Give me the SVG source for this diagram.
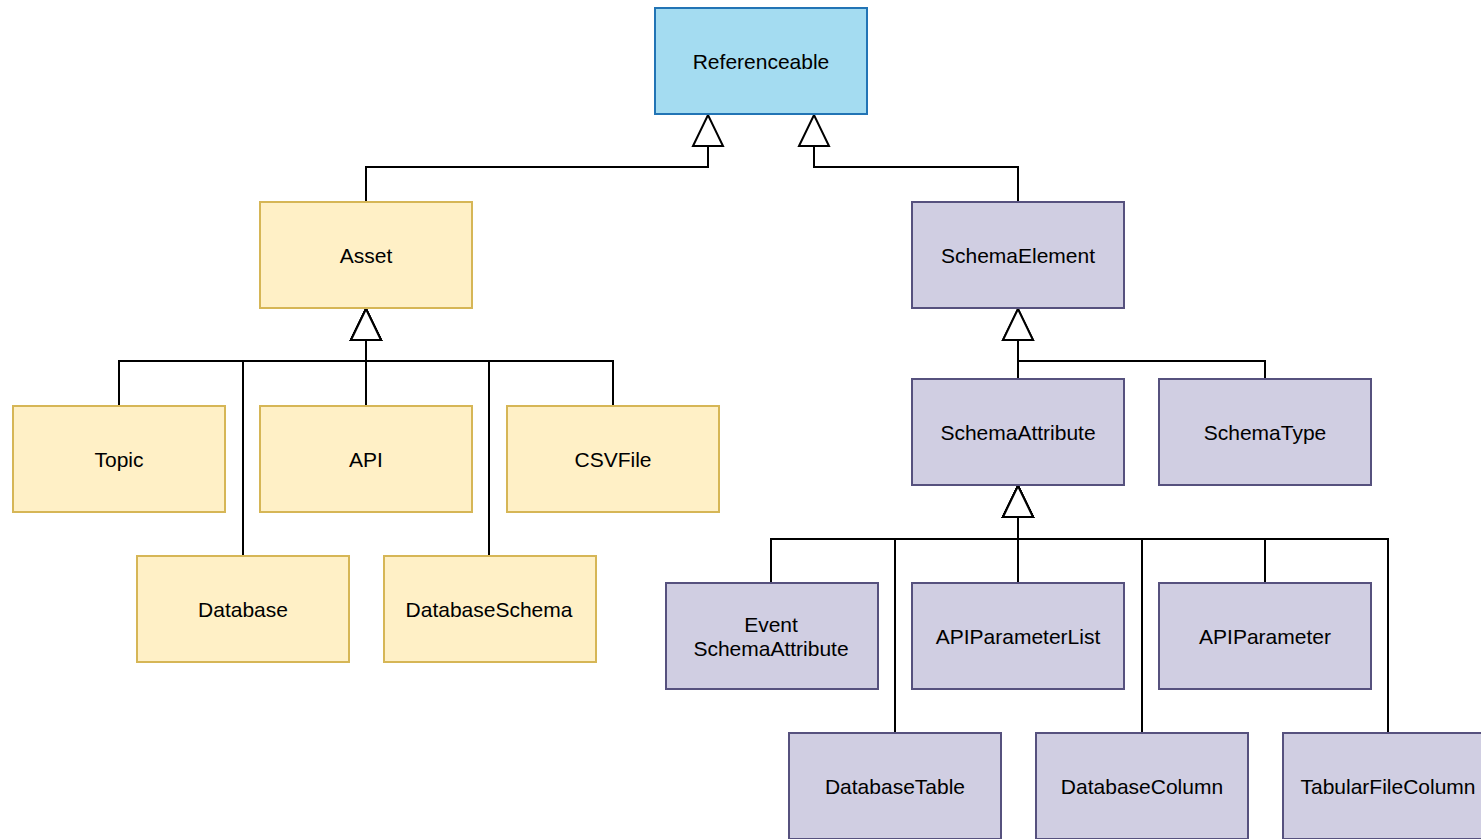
<svg xmlns="http://www.w3.org/2000/svg" width="1481" height="839" viewBox="0 0 1481 839">
  <style>
    .node rect { stroke-width: 2; }
    .ref rect { fill: #a4dcf1; stroke: #2274b5; }
    .asset rect { fill: #fff0c6; stroke: #d6b656; }
    .schema rect { fill: #d0cee2; stroke: #56517e; }
    .node text { font-family: "Liberation Sans", Arial, sans-serif; font-size: 21px; fill: #000; text-anchor: middle; dominant-baseline: central; }
    .edge { fill: none; stroke: #000; stroke-width: 2; }
  </style>
  <defs>
    <marker id="inherit" markerUnits="userSpaceOnUse" markerWidth="34" markerHeight="34" viewBox="-2 -2 34 34" refX="31" refY="15" orient="auto">
      <path d="M0,0 L31,15 L0,30 Z" fill="#fff" stroke="#000" stroke-width="2"/>
    </marker>
  </defs>

  <!-- generalisation connectors -->
  <g id="connectors">
    <path class="edge" d="M366,202 V167 H708 V115" marker-end="url(#inherit)"/>
    <path class="edge" d="M1018,202 V167 H814 V115" marker-end="url(#inherit)"/>

    <path class="edge" d="M119,405 V361 H366 V309" marker-end="url(#inherit)"/>
    <path class="edge" d="M243,556 V361 H366 V309" marker-end="url(#inherit)"/>
    <path class="edge" d="M366,405 V309" marker-end="url(#inherit)"/>
    <path class="edge" d="M489,556 V361 H366 V309" marker-end="url(#inherit)"/>
    <path class="edge" d="M613,405 V361 H366 V309" marker-end="url(#inherit)"/>

    <path class="edge" d="M1018,379 V309" marker-end="url(#inherit)"/>
    <path class="edge" d="M1265,379 V361 H1018 V309" marker-end="url(#inherit)"/>

    <path class="edge" d="M771,583 V539 H1018 V486" marker-end="url(#inherit)"/>
    <path class="edge" d="M895,733 V539 H1018 V486" marker-end="url(#inherit)"/>
    <path class="edge" d="M1018,583 V486" marker-end="url(#inherit)"/>
    <path class="edge" d="M1142,733 V539 H1018 V486" marker-end="url(#inherit)"/>
    <path class="edge" d="M1265,583 V539 H1018 V486" marker-end="url(#inherit)"/>
    <path class="edge" d="M1388,733 V539 H1018 V486" marker-end="url(#inherit)"/>
  </g>

  <g id="Referenceable" class="node ref">
    <rect x="655" y="8" width="212" height="106"/>
    <text x="761" y="61">Referenceable</text>
  </g>

  <g id="Asset" class="node asset">
    <rect x="260" y="202" width="212" height="106"/>
    <text x="366" y="255">Asset</text>
  </g>
  <g id="Topic" class="node asset">
    <rect x="13" y="406" width="212" height="106"/>
    <text x="119" y="459">Topic</text>
  </g>
  <g id="API" class="node asset">
    <rect x="260" y="406" width="212" height="106"/>
    <text x="366" y="459">API</text>
  </g>
  <g id="CSVFile" class="node asset">
    <rect x="507" y="406" width="212" height="106"/>
    <text x="613" y="459">CSVFile</text>
  </g>
  <g id="Database" class="node asset">
    <rect x="137" y="556" width="212" height="106"/>
    <text x="243" y="609">Database</text>
  </g>
  <g id="DatabaseSchema" class="node asset">
    <rect x="384" y="556" width="212" height="106"/>
    <text x="489" y="609">DatabaseSchema</text>
  </g>

  <g id="SchemaElement" class="node schema">
    <rect x="912" y="202" width="212" height="106"/>
    <text x="1018" y="255">SchemaElement</text>
  </g>
  <g id="SchemaAttribute" class="node schema">
    <rect x="912" y="379" width="212" height="106"/>
    <text x="1018" y="432">SchemaAttribute</text>
  </g>
  <g id="SchemaType" class="node schema">
    <rect x="1159" y="379" width="212" height="106"/>
    <text x="1265" y="432">SchemaType</text>
  </g>
  <g id="EventSchemaAttribute" class="node schema">
    <rect x="666" y="583" width="212" height="106"/>
    <text x="771" y="624">Event</text>
    <text x="771" y="648">SchemaAttribute</text>
  </g>
  <g id="APIParameterList" class="node schema">
    <rect x="912" y="583" width="212" height="106"/>
    <text x="1018" y="636">APIParameterList</text>
  </g>
  <g id="APIParameter" class="node schema">
    <rect x="1159" y="583" width="212" height="106"/>
    <text x="1265" y="636">APIParameter</text>
  </g>
  <g id="DatabaseTable" class="node schema">
    <rect x="789" y="733" width="212" height="106"/>
    <text x="895" y="786">DatabaseTable</text>
  </g>
  <g id="DatabaseColumn" class="node schema">
    <rect x="1036" y="733" width="212" height="106"/>
    <text x="1142" y="786">DatabaseColumn</text>
  </g>
  <g id="TabularFileColumn" class="node schema">
    <rect x="1283" y="733" width="212" height="106"/>
    <text x="1388" y="786">TabularFileColumn</text>
  </g>
</svg>
